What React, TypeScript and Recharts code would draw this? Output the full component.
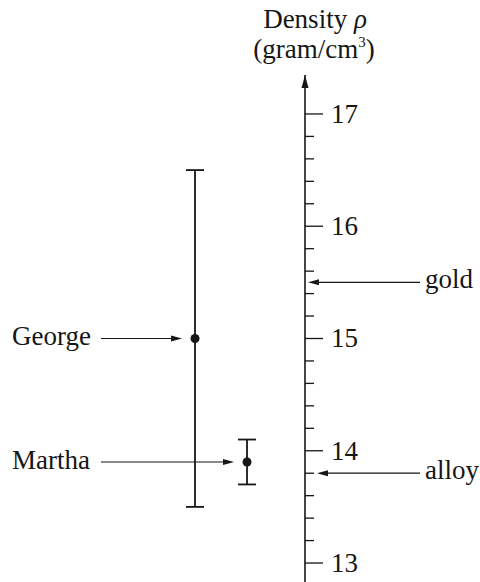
import { ComposedChart, Scatter, ErrorBar, XAxis, YAxis, ReferenceLine } from 'recharts';

// measurements, each with its own uncertainty
const measurers = ['George', 'Martha'];
const estimates = [15, 13.9];
const errors = [1.5, 0.2];

// known densities marked against the axis
const materials = ['gold', 'alloy'];
const materialDensities = [15.5, 13.8];

const densityTicks = [
  13, 13.2, 13.4, 13.6, 13.8, 14, 14.2, 14.4, 14.6, 14.8, 15, 15.2, 15.4, 15.6, 15.8, 16, 16.2,
  16.4, 16.6, 16.8, 17,
];
const labelledTicks = [13, 14, 15, 16, 17];

const INK = '#161616';
const FONT = "'Liberation Serif', 'Times New Roman', serif";
const FONT_SIZE = 27;

const data = measurers.map((name, i) => ({
  name,
  slot: i,
  density: estimates[i],
  err: errors[i],
}));

function Arrow({ from, to, y }: { from: number; to: number; y: number }) {
  const dir = Math.sign(to - from);
  const head = 11;
  const half = 3;
  return (
    <g>
      <line x1={from} y1={y} x2={to - dir * head} y2={y} stroke={INK} strokeWidth={1.2} />
      <polygon
        points={`${to},${y} ${to - dir * head},${y - half} ${to - dir * head},${y + half}`}
        fill={INK}
      />
    </g>
  );
}

const DensityTick = (props: any) => {
  const { x, y, payload } = props;
  const major = labelledTicks.includes(payload.value);
  return (
    <g>
      <line x1={x} y1={y} x2={x + (major ? 18 : 9)} y2={y} stroke={INK} strokeWidth={1.3} />
      {major && (
        <text x={x + 26} y={y + 9} fontFamily={FONT} fontSize={FONT_SIZE} fill={INK}>
          {payload.value}
        </text>
      )}
    </g>
  );
};

// arrowhead on top of the axis and the quantity name above it
const AxisHead = (props: any) => {
  const vb = props.viewBox ?? {};
  const x = vb.x ?? 305;
  const y = vb.y ?? 75;
  return (
    <g>
      <polygon points={`${x},${y} ${x - 3.5},${y + 13} ${x + 3.5},${y + 13}`} fill={INK} />
      <text x={x + 10} y={28} textAnchor="middle" fontFamily={FONT} fontSize={FONT_SIZE} fill={INK}>
        Density <tspan fontStyle="italic">ρ</tspan>
      </text>
      <text x={x + 9} y={58} textAnchor="middle" fontFamily={FONT} fontSize={FONT_SIZE} fill={INK}>
        (gram/cm
        <tspan fontSize={15} dy={-11}>
          3
        </tspan>
        <tspan dy={11}>)</tspan>
      </text>
    </g>
  );
};

const MeasurementDot = (props: any) => {
  const { cx, cy, payload } = props;
  return (
    <g>
      <text x={12} y={cy + 7} fontFamily={FONT} fontSize={FONT_SIZE} fill={INK}>
        {payload.name}
      </text>
      <Arrow from={101} to={cx - 13} y={cy} />
      <circle cx={cx} cy={cy} r={4.5} fill={INK} />
    </g>
  );
};

const MaterialMarker = (props: any) => {
  const { x1, x2, y1, name, value } = props;
  const axisX = Math.max(x1, x2);
  const onTick = densityTicks.some((t) => Math.abs(t - value) < 1e-6);
  return (
    <g>
      <Arrow from={420} to={axisX + (onTick ? 12 : 3)} y={y1} />
      <text x={425} y={y1 + 6} fontFamily={FONT} fontSize={FONT_SIZE} fill={INK}>
        {name}
      </text>
    </g>
  );
};

export default function App() {
  return (
    <div style={{ position: 'absolute', left: 0, top: 0, width: 480, height: 582, background: '#fff' }}>
      <ComposedChart width={480} height={582} data={data} margin={{ top: 75, right: 174, bottom: 0, left: 0 }}>
        <XAxis type="number" dataKey="slot" domain={[-3.75, 2.115]} allowDataOverflow hide />
        <YAxis
          type="number"
          orientation="right"
          width={1}
          domain={[12.831, 17.347]}
          allowDataOverflow
          ticks={densityTicks}
          interval={0}
          tickSize={0}
          tickMargin={0}
          tickLine={false}
          tick={DensityTick}
          axisLine={{ stroke: INK, strokeWidth: 1.6 }}
          label={<AxisHead />}
        />
        {materials.map((name, i) => (
          <ReferenceLine
            key={name}
            y={materialDensities[i]}
            shape={(p: any) => <MaterialMarker {...p} name={name} value={materialDensities[i]} />}
          />
        ))}
        <Scatter dataKey="density" shape={MeasurementDot} isAnimationActive={false}>
          <ErrorBar dataKey="err" direction="y" width={9} stroke={INK} strokeWidth={1.8} />
        </Scatter>
      </ComposedChart>
    </div>
  );
}
